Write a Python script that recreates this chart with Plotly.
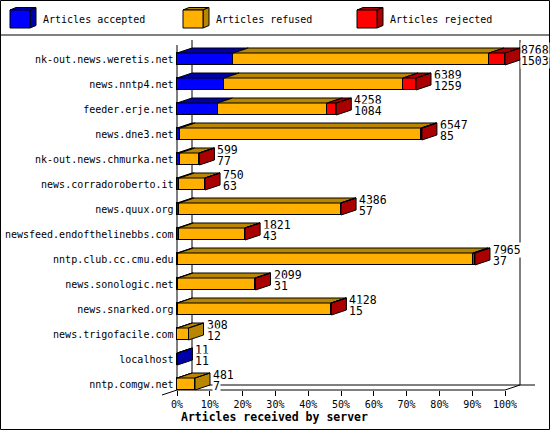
import plotly.graph_objects as go

# ---------------- data ----------------
servers = [
    "nk-out.news.weretis.net", "news.nntp4.net", "feeder.erje.net", "news.dne3.net",
    "nk-out.news.chmurka.net", "news.corradoroberto.it", "news.quux.org",
    "newsfeed.endofthelinebbs.com", "nntp.club.cc.cmu.edu", "news.sonologic.net",
    "news.snarked.org", "news.trigofacile.com", "localhost", "nntp.comgw.net",
]
total    = [8768, 6389, 4258, 6547, 599, 750, 4386, 1821, 7965, 2099, 4128, 308, 11, 481]
accepted = [1503, 1259, 1084, 85, 77, 63, 57, 43, 37, 31, 15, 12, 11, 7]
refused  = [6838, 4783, 2933, 6444, 514, 681, 4315, 1768, 7873, 2059, 4102, 296, 0, 474]
rejected = [427, 347, 241, 18, 8, 6, 14, 10, 55, 9, 11, 0, 0, 0]
series_names = ["Articles accepted", "Articles refused", "Articles rejected"]
x_ticks = [0, 10, 20, 30, 40, 50, 60, 70, 80, 90, 100]
x_title = "Articles received by server"

# ---------------- style / geometry ----------------
W, H = 550, 430
front_col = ["#0000FF", "#FFB000", "#FF0000"]
dark_col = ["#0000AA", "#B88600", "#AA0000"]
MONO = "DejaVu Sans Mono"

X0_PX, PX_PER_PCT = 177.0, 3.28     # 0% position, pixels per percent
Y0_PX, PX_PER_ROW = 59.0, 25.0      # first row centre, pixels per row
DEPTH_PX_X, DEPTH_PX_Y = 15.0, 5.0
HALF_H = 6.0 / PX_PER_ROW
DX = DEPTH_PX_X / PX_PER_PCT
DY = DEPTH_PX_Y / PX_PER_ROW


def px2x(px):
    return (px - X0_PX) / PX_PER_PCT


def px2y(py):
    return (py - Y0_PX) / PX_PER_ROW


def pX(px):
    return px / W


def pY(py):
    return 1 - py / H


vmax = max(total)
rows = list(range(len(servers)))
series = [accepted, refused, rejected]
pct = [[v / vmax * 100 for v in s] for s in series]

fig = go.Figure()

# front faces (stacked bars)
for k in range(3):
    fig.add_trace(go.Bar(
        y=rows, x=pct[k], orientation="h", width=2 * HALF_H,
        marker=dict(color=front_col[k], line=dict(color="black", width=1)),
        name=series_names[k], showlegend=False, hoverinfo="skip",
    ))

# top faces and right side faces (3D effect), computed from the data
poly_x = {k: [] for k in range(3)}
poly_y = {k: [] for k in range(3)}
for i in rows:
    c = i
    top, bot = c - HALF_H, c + HALF_H
    start = 0.0
    last_k = None
    for k in range(3):
        w = pct[k][i]
        if series[k][i] > 0:
            a, b = start, start + w
            poly_x[k] += [a, b, b + DX, a + DX, a, None]
            poly_y[k] += [top, top, top - DY, top - DY, top, None]
            last_k = k
        start += w
    if last_k is not None:
        e = start
        poly_x[last_k] += [e, e, e + DX, e + DX, e, None]
        poly_y[last_k] += [top, bot, bot - DY, top - DY, top, None]

for k in range(3):
    fig.add_trace(go.Scatter(
        x=poly_x[k], y=poly_y[k], mode="lines", fill="toself",
        fillcolor=dark_col[k], line=dict(color="black", width=1),
        hoverinfo="skip", showlegend=False,
    ))

# value labels (total / accepted)
label_limit = px2x(520)
for i in rows:
    xend = sum(pct[k][i] for k in range(3)) + DX + 2 / PX_PER_PCT
    xl = min(xend, label_limit)
    for txt, off in ((str(total[i]), -9.0), (str(accepted[i]), 1.5)):
        fig.add_annotation(
            x=xl, y=i + off / PX_PER_ROW, xref="x", yref="y",
            text=txt, showarrow=False, xanchor="left", yanchor="middle",
            font=dict(family=MONO, size=11.5, color="black"),
            bgcolor="white", borderpad=0,
        )

# chart frame (walls / floor)
line = dict(color="black", width=1)
frame = [
    (0, px2y(45), 0, px2y(390)),
    (DX, px2y(40), DX, px2y(385)),
    (100 + DX, px2y(40), 100 + DX, px2y(385)),
    (DX, px2y(385), px2x(535), px2y(385)),
    (0, px2y(390), 100, px2y(390)),
    (100, px2y(390), 100 + DX, px2y(385)),
    (px2x(162), px2y(395), DX, px2y(385)),
]
for x0, y0, x1, y1 in frame:
    fig.add_shape(type="line", xref="x", yref="y", x0=x0, y0=y0, x1=x1, y1=y1,
                  line=line, layer="below")

# outer border and legend separator
fig.add_shape(type="rect", xref="paper", yref="paper", x0=pX(0.5), y0=pY(429.5),
              x1=pX(549.5), y1=pY(0.5), line=line)
fig.add_shape(type="line", xref="paper", yref="paper", x0=0, x1=1, y0=pY(35), y1=pY(35),
              line=line)

# legend with 3D swatches
leg_x = [10, 183, 357]
for k in range(3):
    lx = leg_x[k]
    fx0, fx1, fy0, fy1 = lx, lx + 20, 10, 28
    ddx, ddy = 6, 2.5
    top_path = (f"M{pX(fx0)},{pY(fy0)} L{pX(fx1)},{pY(fy0)} L{pX(fx1+ddx)},{pY(fy0-ddy)} "
                f"L{pX(fx0+ddx)},{pY(fy0-ddy)} Z")
    side_path = (f"M{pX(fx1)},{pY(fy0)} L{pX(fx1)},{pY(fy1)} L{pX(fx1+ddx)},{pY(fy1-ddy)} "
                 f"L{pX(fx1+ddx)},{pY(fy0-ddy)} Z")
    fig.add_shape(type="path", xref="paper", yref="paper", path=top_path,
                  fillcolor=dark_col[k], line=line)
    fig.add_shape(type="path", xref="paper", yref="paper", path=side_path,
                  fillcolor=dark_col[k], line=line)
    fig.add_shape(type="rect", xref="paper", yref="paper", x0=pX(fx0), x1=pX(fx1),
                  y0=pY(fy1), y1=pY(fy0), fillcolor=front_col[k], line=line)
    fig.add_annotation(x=pX(lx + 31), y=pY(20), xref="paper", yref="paper",
                       text=series_names[k], showarrow=False, xanchor="left",
                       yanchor="middle", font=dict(family=MONO, size=10, color="black"))

# axis title
fig.add_annotation(x=pX(179), y=pY(417), xref="paper", yref="paper", text=f"<b>{x_title}</b>",
                   showarrow=False, xanchor="left", yanchor="middle",
                   font=dict(family=MONO, size=11.5, color="black"))

fig.update_layout(
    width=W, height=H, margin=dict(l=0, r=0, t=0, b=0),
    paper_bgcolor="white", plot_bgcolor="white",
    barmode="stack", bargap=0, showlegend=False,
    xaxis=dict(range=[px2x(0), px2x(W)], domain=[0, 1], anchor="free", position=pY(390),
               tickvals=x_ticks, ticktext=[f"{t}%" for t in x_ticks],
               ticks="outside", ticklen=5, tickcolor="black", tickwidth=1,
               showgrid=False, zeroline=False, showline=False, automargin=False,
               tickfont=dict(family=MONO, size=10, color="black")),
    yaxis=dict(range=[px2y(H), px2y(0)], domain=[0, 1], anchor="free", position=pX(173.5),
               tickvals=rows, ticktext=servers, ticks="",
               showgrid=False, zeroline=False, showline=False, automargin=False,
               tickfont=dict(family=MONO, size=10, color="black")),
)

fig.write_html(
    "out.html",
    config={"displayModeBar": False},
    post_script="document.body.style.margin='0';document.body.style.overflow='hidden';",
)
